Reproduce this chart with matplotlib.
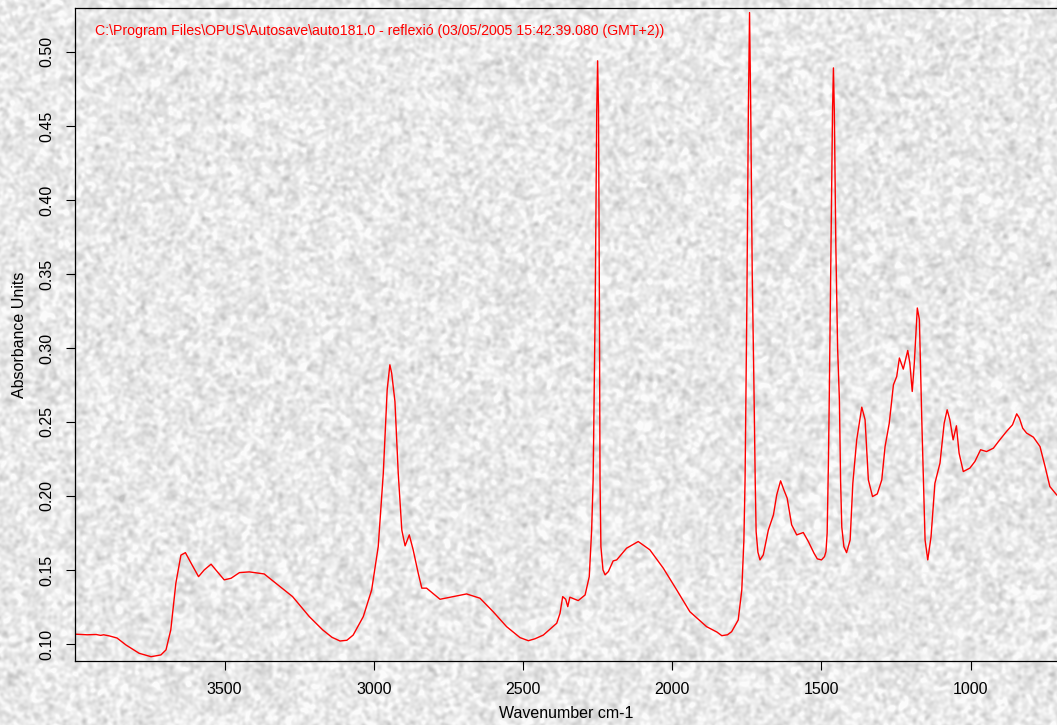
import numpy as np
import matplotlib
matplotlib.use('Agg')
import matplotlib.pyplot as plt

# Spectrum read points: wavenumber (cm-1) and absorbance
wavenumber = [3998, 3960, 3930, 3915, 3905, 3885, 3860, 3830, 3786, 3746, 3713, 3696,
              3680, 3663, 3646, 3631, 3612, 3587, 3568, 3545, 3529, 3501, 3478, 3450,
              3417, 3367, 3328, 3272, 3216, 3171, 3140, 3113, 3090, 3069, 3035, 3007,
              2985, 2968, 2955, 2946, 2940, 2929, 2918, 2906, 2895, 2881, 2868, 2851,
              2839, 2823, 2778, 2734, 2689, 2644, 2600, 2555, 2510, 2482, 2460, 2432,
              2387, 2376, 2367, 2357, 2350, 2343, 2315, 2292, 2278, 2270, 2265, 2258,
              2253, 2250, 2247, 2244, 2242, 2239, 2232, 2225, 2214, 2198, 2186, 2153,
              2114, 2075, 2030, 1985, 1941, 1885, 1850, 1834, 1815, 1801, 1779, 1767,
              1760, 1756, 1750, 1745, 1741, 1737, 1732, 1726, 1722, 1719, 1713, 1706,
              1695, 1678, 1661, 1650, 1637, 1626, 1615, 1600, 1583, 1561, 1544, 1525,
              1514, 1500, 1490, 1485, 1481, 1477, 1474, 1468, 1463, 1460, 1457, 1452,
              1446, 1440, 1436, 1432, 1425, 1416, 1404, 1395, 1382, 1365, 1354, 1343,
              1329, 1313, 1298, 1287, 1273, 1259, 1248, 1239, 1226, 1211, 1204, 1196,
              1189, 1179, 1172, 1164, 1153, 1144, 1133, 1120, 1103, 1089, 1079, 1070,
              1059, 1048, 1039, 1025, 1003, 986, 967, 947, 924, 907, 880, 860, 846,
              837, 826, 813, 790, 768, 751, 735, 712]
absorbance = [0.1066, 0.1062, 0.1064, 0.1058, 0.1062, 0.1054, 0.1040, 0.0993, 0.0937, 0.0914,
              0.0926, 0.0960, 0.1095, 0.1410, 0.1600, 0.1617, 0.1546, 0.1455, 0.1500, 0.1539,
              0.1500, 0.1433, 0.1444, 0.1482, 0.1487, 0.1473, 0.1410, 0.1320, 0.1185, 0.1095,
              0.1045, 0.1020, 0.1025, 0.1060, 0.1185, 0.1365, 0.1658, 0.2154, 0.2717, 0.2886,
              0.2830, 0.2638, 0.2154, 0.1770, 0.1663, 0.1737, 0.1636, 0.1478, 0.1377, 0.1377,
              0.1302, 0.1320, 0.1338, 0.1309, 0.1218, 0.1117, 0.1043, 0.1022, 0.1035, 0.1060,
              0.1140, 0.1207, 0.1320, 0.1302, 0.1252, 0.1316, 0.1293, 0.1331, 0.1455, 0.1770,
              0.2110, 0.3300, 0.4600, 0.4940, 0.4600, 0.3300, 0.2110, 0.1658, 0.1500, 0.1467,
              0.1489, 0.1561, 0.1568, 0.1647, 0.1692, 0.1636, 0.1512, 0.1365, 0.1218, 0.1117,
              0.1080, 0.1056, 0.1062, 0.1083, 0.1162, 0.1365, 0.1700, 0.2110, 0.3300, 0.4600,
              0.5266, 0.4600, 0.3500, 0.2700, 0.2100, 0.1760, 0.1620, 0.1568, 0.1602, 0.1770,
              0.1872, 0.2007, 0.2102, 0.2041, 0.1985, 0.1805, 0.1737, 0.1753, 0.1692, 0.1613,
              0.1575, 0.1568, 0.1590, 0.1624, 0.1750, 0.2200, 0.2650, 0.3700, 0.4600, 0.4892,
              0.4600, 0.3700, 0.3000, 0.2650, 0.2100, 0.1790, 0.1658, 0.1617, 0.1703, 0.2086,
              0.2379, 0.2600, 0.2515, 0.2109, 0.1996, 0.2014, 0.2109, 0.2334, 0.2491, 0.2751,
              0.2807, 0.2932, 0.2857, 0.2983, 0.2898, 0.2706, 0.2898, 0.3270, 0.3191, 0.2515,
              0.1703, 0.1568, 0.1725, 0.2086, 0.2222, 0.2491, 0.2582, 0.2515, 0.2379, 0.2474,
              0.2289, 0.2165, 0.2188, 0.2233, 0.2312, 0.2300, 0.2323, 0.2368, 0.2436, 0.2481,
              0.2555, 0.2526, 0.2458, 0.2425, 0.2397, 0.2334, 0.2199, 0.2064, 0.2007]

xticks = [3500, 3000, 2500, 2000, 1500, 1000]
yticks = [0.10, 0.15, 0.20, 0.25, 0.30, 0.35, 0.40, 0.45, 0.50]
ytick_labels = ['0.10', '0.15', '0.20', '0.25', '0.30', '0.35', '0.40', '0.45', '0.50']
title = r'C:\Program Files\OPUS\Autosave\auto181.0 - reflexió (03/05/2005 15:42:39.080 (GMT+2))'

plt.rcParams['font.family'] = ['Liberation Sans', 'DejaVu Sans']

fig = plt.figure(figsize=(10.57, 7.25), dpi=100)

# grey granite backdrop
rng = np.random.default_rng(12)
h, w = 725, 1057
noise = rng.standard_normal((h, w))
fy = np.fft.fftfreq(h)[:, None]
fx = np.fft.fftfreq(w)[None, :]
kern = np.exp(-((fx * 1.7) ** 2 + (fy * 1.7) ** 2) * 2 * np.pi ** 2)
tex = np.real(np.fft.ifft2(np.fft.fft2(noise) * kern))
tex = (tex - tex.mean()) / tex.std()
tex = np.clip(0.915 + 0.04 * tex, 0.76, 0.985)
fig.figimage(np.dstack([tex, tex, tex]), xo=0, yo=0, zorder=0)

ax = fig.add_axes([0.0712, 0.0883, 0.9288, 0.9007])
ax.set_zorder(2)
ax.patch.set_alpha(0)
ax.plot(wavenumber, absorbance, color='#ff0000', lw=1.0)

ax.set_xlim(4000, 711)
ax.set_ylim(0.0885, 0.5297)
ax.set_xticks(xticks)
ax.set_xticklabels([str(t) for t in xticks])
ax.set_yticks(yticks)
ax.set_yticklabels(ytick_labels, rotation=90, va='center')
ax.tick_params(direction='out', length=6.5, width=0.8, pad=8.5, labelsize=11.5)
ax.spines['right'].set_visible(False)
for s in ['left', 'bottom', 'top']:
    ax.spines[s].set_linewidth(0.9)

ax.set_xlabel('Wavenumber cm-1', fontsize=11.5)
ax.set_ylabel('Absorbance Units', fontsize=11.5)
ax.xaxis.set_label_coords(0.5, -0.069)
ax.yaxis.set_label_coords(-0.049, 0.5)

ax.text(0.020, 0.9648, title, transform=ax.transAxes, color='#ff0000',
        fontsize=10.2, va='center', ha='left')

fig.savefig('out.png', dpi=100)
